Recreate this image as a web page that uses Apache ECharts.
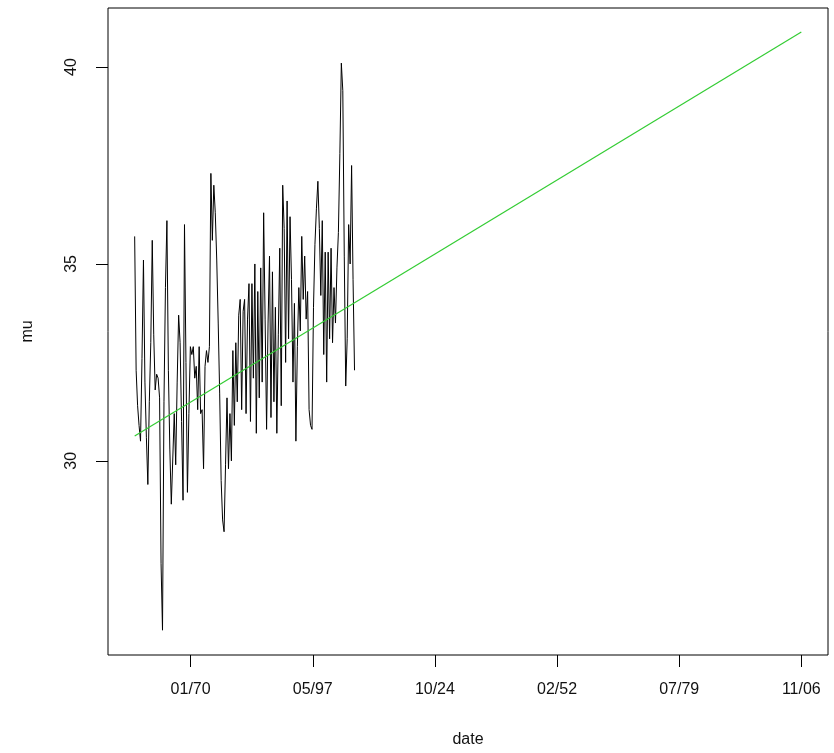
<!DOCTYPE html>
<html><head><meta charset="utf-8">
<script src="https://cdn.jsdelivr.net/npm/echarts@6/dist/echarts.min.js"></script>
<style>html,body{margin:0;padding:0;background:#fff}#c{width:834px;height:753px}</style>
</head><body><div id="c"></div>
<script>
// observations: day offset from 1970-01-01 of first point and sampling step
const startDay = -4580;
const stepDays = 120;
const muValues = [
35.7,32.3,31.4,30.9,30.5,32.6,35.1,32.0,30.6,29.4,
31.5,33.0,35.6,33.2,31.8,32.2,32.1,31.6,27.4,25.7,
31.5,34.4,36.1,32.3,30.3,28.9,28.9,31.2,29.9,32.0,
33.7,33.0,31.0,29.0,36.0,32.5,29.2,31.2,32.9,32.7,
32.9,32.1,32.4,31.3,32.9,31.2,31.3,29.8,32.4,32.8,
32.5,32.9,37.3,35.6,37.0,36.3,35.1,33.5,31.7,29.5,
28.5,28.2,29.9,31.6,29.8,31.2,30.0,32.8,30.9,33.0,
31.5,33.7,34.1,31.3,33.8,34.1,31.2,33.6,34.5,31.0,
34.5,32.1,35.0,30.7,34.3,31.6,34.9,32.0,36.3,33.6,
30.8,33.5,35.2,31.1,34.8,31.5,33.9,30.7,33.2,35.4,
31.4,37.0,35.9,32.5,36.6,33.1,36.2,34.6,32.0,34.0,
30.5,32.9,34.4,33.3,35.7,34.1,35.2,33.6,34.3,31.3,
30.9,30.8,33.9,35.5,36.4,37.1,35.9,34.2,36.1,32.7,
35.3,32.0,35.3,33.1,35.4,33.0,34.4,33.5,34.9,35.8,
37.8,40.1,39.4,35.2,31.9,33.1,36.0,35.0,37.5,34.6,
32.3
];
const trendDays = [-4580, 50000];
const trendValues = [30.63, 40.89];
const xTickDays = [0, 10000, 20000, 30000, 40000, 50000];
const xTickLabels = ['01/70', '05/97', '10/24', '02/52', '07/79', '11/06'];
const yTicks = [30, 35, 40];
const xRange = [-6763, 52183];
const yRange = [25.07, 41.5];

const muData = muValues.map((v, i) => [startDay + i * stepDays, v]);
const trendData = trendDays.map((d, i) => [d, trendValues[i]]);
const font = "'Liberation Sans', Arial, sans-serif";

const chart = echarts.init(document.getElementById('c'), null, {renderer: 'canvas'});
chart.setOption({
  animation: false,
  backgroundColor: '#fff',
  grid: {left: 108, right: 6, top: 8, bottom: 97, show: true, borderColor: '#000', borderWidth: 1, backgroundColor: 'transparent'},
  xAxis: {
    type: 'value', min: xRange[0], max: xRange[1], position: 'bottom',
    name: 'date', nameLocation: 'middle', nameGap: 77,
    nameTextStyle: {fontFamily: font, fontSize: 16, color: '#111'},
    axisLine: {show: false, onZero: false},
    splitLine: {show: false},
    axisTick: {show: true, length: 12, lineStyle: {color: '#000', width: 1}, customValues: xTickDays},
    axisLabel: {show: true, margin: 27, fontFamily: font, fontSize: 16, color: '#111',
      customValues: xTickDays,
      formatter: v => xTickLabels[xTickDays.indexOf(v)]}
  },
  yAxis: {
    type: 'value', min: yRange[0], max: yRange[1], position: 'left',
    name: 'mu', nameLocation: 'middle', nameGap: 72, nameRotate: 90,
    nameTextStyle: {fontFamily: font, fontSize: 16, color: '#111'},
    axisLine: {show: false, onZero: false},
    splitLine: {show: false},
    axisTick: {show: true, length: 12, lineStyle: {color: '#000', width: 1}, customValues: yTicks},
    axisLabel: {show: true, margin: 28, rotate: 90, fontFamily: font, fontSize: 16, color: '#111',
      customValues: yTicks, formatter: v => String(v)}
  },
  series: [
    {type: 'line', data: muData, showSymbol: false, symbol: 'none',
     lineStyle: {color: '#000', width: 1}, silent: true},
    {type: 'line', data: trendData, showSymbol: false, symbol: 'none',
     lineStyle: {color: '#33cc33', width: 1.2}, silent: true}
  ]
});
</script>
</body></html>
